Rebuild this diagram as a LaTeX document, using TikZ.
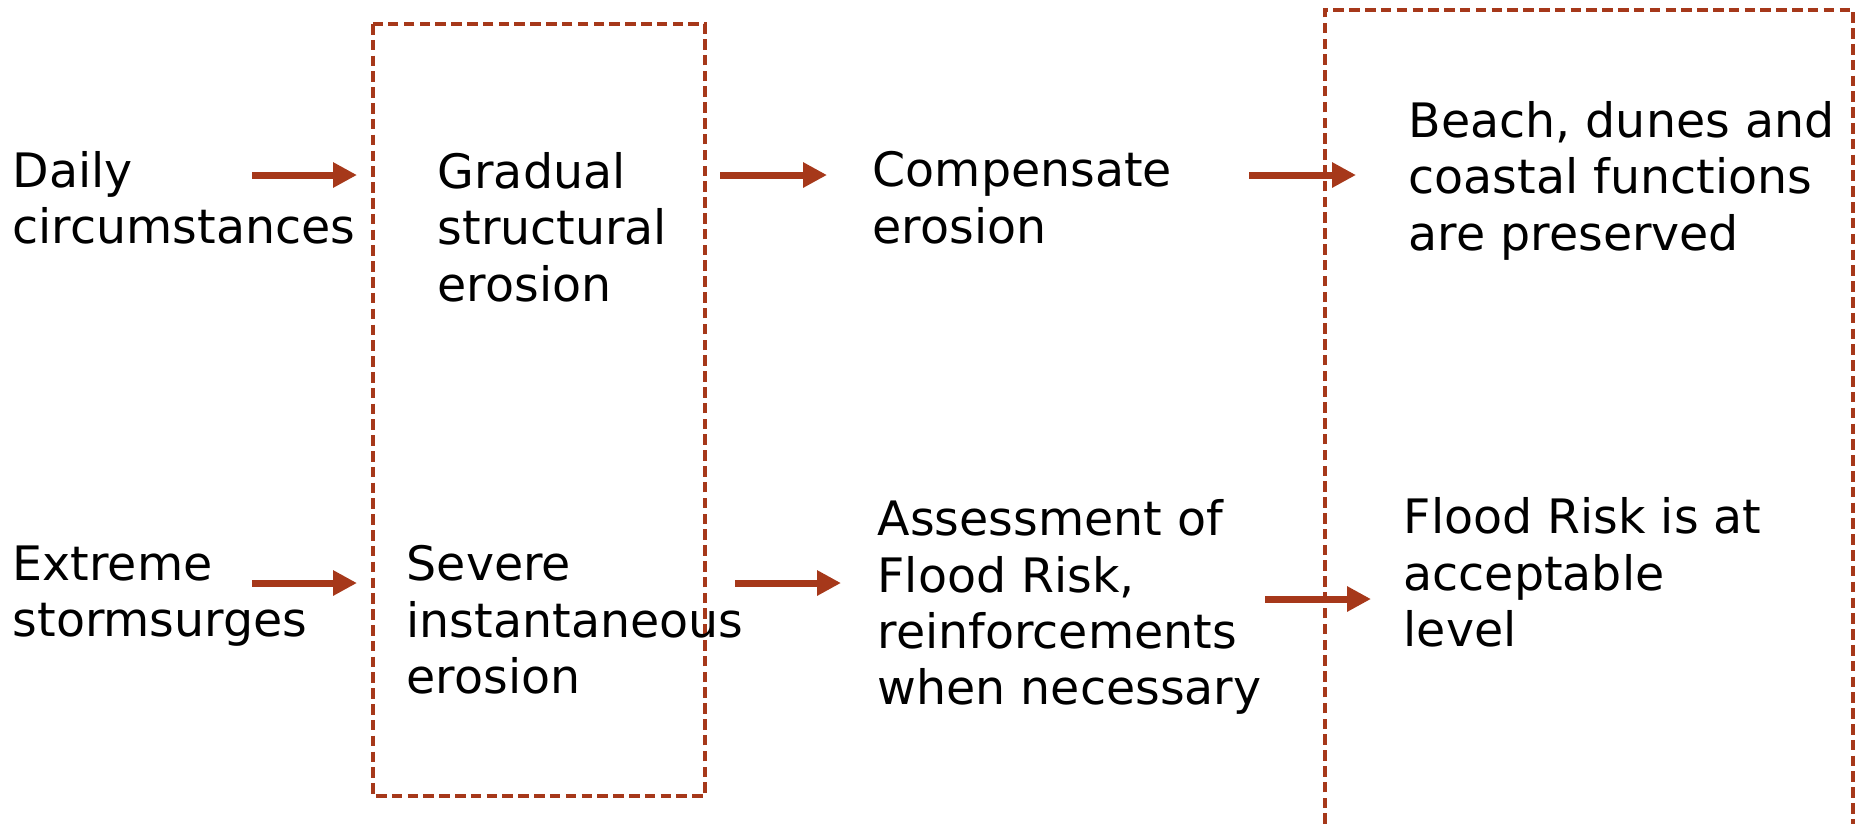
\documentclass[tikz,border=0pt]{standalone}
\usepackage{fontspec}
\setmainfont{DejaVu Sans}
\usetikzlibrary{arrows.meta}
\definecolor{rust}{RGB}{166, 56, 26}
\tikzset{
    lbl/.style={anchor=north west, inner sep=0pt, align=left,
        font=\fontsize{13.5pt}{16pt}\selectfont},
    flow/.style={rust, line width=0.7mm, -{Triangle[length=2.4mm, width=2.4mm]}},
    zone/.style={rust, line width=0.9pt, dash pattern=on 3pt off 1.5pt}
}

\begin{document}
\begin{tikzpicture}[x=0.1mm, y=-0.1mm]
			\useasboundingbox (0,0) rectangle (1860,824);

			% Dashed zones
			\draw[zone] (373,24) rectangle (705,796);
			\draw[zone] (1325,824) -- (1325,10) -- (1853,10) -- (1853,824);

			% Upper row
			\node[lbl] (daily) at (12,151) {Daily\\circumstances};
			\node[lbl] (gradual) at (437,152) {Gradual\\structural\\erosion};
			\node[lbl] (compensate) at (872,151) {Compensate\\erosion};
			\node[lbl] (preserved) at (1408,101) {Beach, dunes and\\coastal functions\\are preserved};

			% Lower row
			\node[lbl] (extreme) at (12,545) {Extreme\\stormsurges};
			\node[lbl] (severe) at (406,545) {Severe\\instantaneous\\erosion};
			\node[lbl] (assess) at (877,499) {Assessment of\\Flood Risk,\\reinforcements\\when necessary};
			\node[lbl] (acceptable) at (1403,497) {Flood Risk is at\\acceptable\\level};

			% Arrow ends
			\coordinate (a1) at (252,175); \coordinate (b1) at (357,175);
			\coordinate (a2) at (720,175); \coordinate (b2) at (827,175);
			\coordinate (a3) at (1249,175); \coordinate (b3) at (1356,175);
			\coordinate (a4) at (252,583); \coordinate (b4) at (357,583);
			\coordinate (a5) at (735,583); \coordinate (b5) at (841,583);
			\coordinate (a6) at (1265,599); \coordinate (b6) at (1371,599);

			% Arrows
			\foreach \i in {1,...,6}
				\draw[flow] (a\i) -- (b\i);
		\end{tikzpicture}
\end{document}
